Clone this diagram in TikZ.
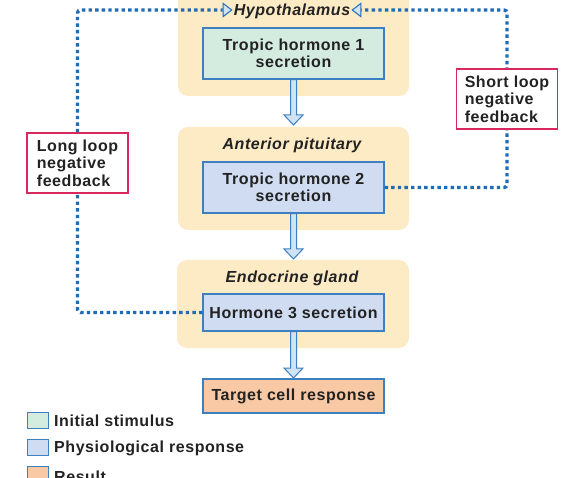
\documentclass[tikz,border=0pt]{standalone}
\usepackage{fontspec}
\setmainfont{Liberation Sans}[LetterSpace=3.5]
\usetikzlibrary{arrows.meta,calc}
\definecolor{panel}{HTML}{FDEBC6}
\definecolor{greenbox}{HTML}{D4EBE0}
\definecolor{bluebox}{HTML}{CFDCF1}
\definecolor{salmon}{HTML}{F9C8A4}
\definecolor{edgeblue}{HTML}{3E7FC1}
\definecolor{dotblue}{HTML}{1E6BB8}
\definecolor{pinkred}{HTML}{D9285E}
\definecolor{txt}{HTML}{222222}
\definecolor{afill}{HTML}{CFE3F3}
\tikzset{
  every node/.style={text=txt, font=\bfseries\fontsize{16}{17.5}\selectfont},
  panelbox/.style={fill=panel, rounded corners=10pt},
  hbox/.style={draw=edgeblue, line width=1.2pt, minimum width=181pt, align=center, inner sep=0pt},
  label/.style={font=\bfseries\itshape\fontsize{16}{17.5}\selectfont, inner sep=1pt},
  fbbox/.style={draw=pinkred, line width=1.6pt, fill=white, align=left, inner sep=3pt, minimum width=101pt, minimum height=60pt},
  dotline/.style={draw=dotblue, line width=3.4pt, dash pattern=on 3.4pt off 3.2pt, rounded corners=3pt},
  tip/.style={-{Triangle[length=10pt,width=15pt,fill=afill,line width=1pt]}},
  barrow/.style={draw=edgeblue, line width=1pt, fill=afill, line join=miter},
  legsq/.style={draw=edgeblue, line width=1pt, minimum width=21pt, minimum height=16pt, inner sep=0pt},
  legtxt/.style={anchor=west, inner sep=0pt}
}
\newcommand\blockarrow[2]{%
  \path[barrow] let \p1=(#1), \p2=(#2) in
    (\x1-3pt,\y1) -- (\x1-3pt,\y2+10pt) -- (\x1-9.5pt,\y2+10pt) -- (\x1,\y2)
    -- (\x1+9.5pt,\y2+10pt) -- (\x1+3pt,\y2+10pt) -- (\x1+3pt,\y1) -- cycle;}
\begin{document}
\begin{tikzpicture}[x=1pt,y=-1pt]
\clip (0,0) rectangle (581,478);
\fill[white] (0,0) rectangle (581,478);
% panels
\fill[panelbox] (178,-20) rectangle (409,96);
\fill[panelbox] (178,127) rectangle (409,230);
\fill[panelbox] (177,260) rectangle (409,348);
% labels
\node[label] (hyp) at (292,11) {Hypothalamus};
\node[label] (ap) at (292,145) {Anterior pituitary};
\node[label] (eg) at (292,278) {Endocrine gland};
% boxes
\node[hbox, fill=greenbox, minimum height=51pt] (t1) at (293.5,53.5) {Tropic hormone 1\\secretion};
\node[hbox, fill=bluebox, minimum height=51pt] (t2) at (293.5,187.5) {Tropic hormone 2\\secretion};
\node[hbox, fill=bluebox, minimum height=37pt] (h3) at (293.5,312.5) {Hormone 3 secretion};
\node[hbox, fill=salmon, minimum height=34pt] (tc) at (293.5,396) {Target cell response};
% block arrows
\coordinate (e1) at (293.5,125);
\coordinate (e2) at (293.5,259);
\coordinate (e3) at (293.5,378);
\blockarrow{t1.south}{e1}
\blockarrow{t2.south}{e2}
\blockarrow{h3.south}{e3}
% feedback loops
\coordinate (lc) at (77.5,10);
\coordinate (sc) at (507,10);
\coordinate (lt) at ($(hyp.west)+(-10,-1)$);
\coordinate (rt) at ($(hyp.east)+(10,-1)$);
\draw[dotline] (h3.west) -| (lc) -- (lt);
\draw[dotline] (t2.east) -| (sc) -- (rt);
\draw[draw=dotblue, tip, line width=0.01pt] (lt) -- ($(hyp.west)+(0,-1)$);
\draw[draw=dotblue, tip, line width=0.01pt] (rt) -- ($(hyp.east)+(0,-1)$);
\node[fbbox] (ll) at (77.5,163) {Long loop\\negative\\feedback};
\node[fbbox] (sl) at (507,99) {Short loop\\negative\\feedback};
% legend
\node[legsq, fill=greenbox] (k1) at (37.5,420) {};
\node[legtxt] (k1t) at (54,421) {Initial stimulus};
\node[legsq, fill=bluebox] (k2) at (37.5,447) {};
\node[legtxt] (k2t) at (54,448) {Physiological response};
\node[legsq, fill=salmon] (k3) at (37.5,474) {};
\node[legtxt] (k3t) at (54,477) {Result};
\end{tikzpicture}
\end{document}
